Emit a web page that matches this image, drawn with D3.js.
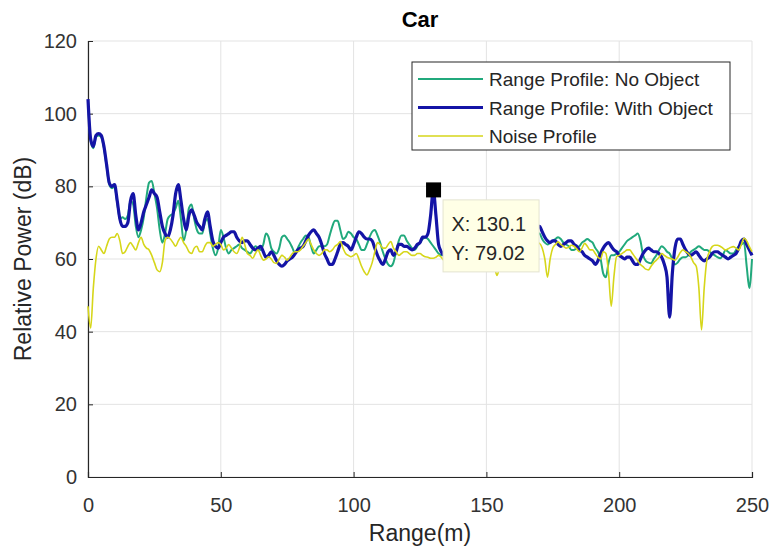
<!DOCTYPE html>
<html>
<head>
<meta charset="utf-8">
<script src="https://cdn.jsdelivr.net/npm/d3@7"></script>
<style>
  body { margin: 0; background: #fff; }
  text { font-family: Arial, "Liberation Sans", Helvetica, sans-serif; }
</style>
</head>
<body>
<div id="chart"></div>
<script>
// range bins, 1 m apart
var rangeM = d3.range(0, 251);

// Range Profile: No Object
var noObject = [
  103.5, 92.5, 90.5, 93.5, 94, 93.5, 90.5, 85.5, 80.5, 79.5, 80,
  75.5, 71, 71.5, 71, 72, 76, 75, 69, 66, 68,
  71.5, 77, 81, 81.5, 78, 74, 68, 64.5, 67, 71,
  72, 72.5, 74, 76, 71, 65, 68, 74, 75, 71,
  68, 67, 67, 70, 71, 67, 63, 61, 63, 68,
  66, 63, 61.5, 62.5, 63, 63.5, 64, 63, 62.5, 62,
  61.5, 62.5, 63.5, 63, 62.5, 64, 67, 66, 63, 62,
  61.5, 63, 66, 66.5, 65.5, 64.5, 63, 61.5, 63, 64.5,
  65.5, 66.5, 66, 63.5, 61.5, 62.5, 63.5, 63.5, 63.5, 64,
  66.5, 69, 70.5, 70.5, 68, 65.5, 66, 67.5, 67, 66,
  65.5, 64, 62.5, 62.5, 64, 66, 67.5, 68, 66.5, 64.5,
  62, 60, 58.5, 58, 59, 62, 65, 66.5, 66.5, 65,
  64, 63, 62.5, 63.5, 64.5, 65.5, 66, 65.5, 64.5, 63.5,
  62.5, 61.5, 61, 62, 64, 65, 63, 61, 62, 64,
  66, 65, 62, 60, 61, 63, 65, 64, 62, 61,
  62, 64, 65, 63, 61, 60, 62, 64, 65, 64,
  62, 61, 63, 65, 66, 66, 65, 66, 67, 67,
  65.5, 64.5, 64, 64.5, 65, 65.5, 66, 65.5, 64.5, 64,
  63.5, 62.5, 62.5, 63, 63.5, 64.5, 65, 65.5, 65, 64.5,
  63, 62, 60, 56, 55, 59, 61, 61, 61.5, 62,
  63, 64, 65, 65.5, 66, 66.5, 67, 65, 61, 59.5,
  59, 58.8, 60, 61, 62.5, 63.5, 63, 62, 61.5, 60,
  58.5, 59, 60, 60.5, 60.5, 61, 62, 62.5, 63, 63.5,
  63, 62.5, 62.5, 62, 61.5, 61, 60.5, 60.2, 61, 62.5,
  62, 61.5, 61.5, 62.5, 63.5, 64, 64.5, 58, 52, 60
];

// Range Profile: With Object
var withObject = [
  104, 93, 91, 94, 94.5, 94, 91, 86, 81, 80, 80.5,
  76, 71, 69, 69, 70, 76, 78, 72, 68, 70,
  73, 75, 77, 79, 78, 77, 73, 69, 67, 66,
  68, 72, 78, 80.5, 76, 71, 68, 72, 73.5, 72,
  70, 69, 68, 71, 73, 69, 65, 63.5, 63, 64.5,
  66, 66.5, 67, 67.5, 67.5, 66, 65, 64.5, 65, 65,
  64, 63, 62.5, 63, 63.5, 62, 60.5, 61, 62, 61,
  59.5, 58.5, 58, 58.5, 59.5, 60, 60.5, 61.5, 62.5, 63,
  63.5, 65, 66.5, 67.5, 68, 67, 66, 64, 61.5, 60,
  58.5, 58.5, 60, 62, 64, 64.5, 64, 63.5, 62.5, 64,
  66, 67.5, 67, 66, 65.5, 65.5, 65, 63, 61, 59.5,
  58.5, 60, 62, 62.5, 61, 62, 64, 64, 63.5, 63.5,
  63, 62.5, 63, 64, 64.5, 66, 66, 67, 72, 79,
  72, 64, 62, 61, 62, 64, 66, 65, 63, 61,
  62, 64, 65, 63, 60, 59, 61, 63, 64, 62,
  60, 61, 63, 65, 64, 62, 61, 62, 64, 66,
  65, 63, 62, 64, 66, 67, 68, 69, 69, 69,
  67.5, 66, 65, 64.5, 65, 65, 64, 63.5, 64, 64.5,
  65, 65, 64, 63.5, 62.5, 62, 61, 60.5, 60, 59.5,
  58.5, 59.5, 61.5, 63, 64, 64.5, 63.5, 62.5, 62, 61,
  60.5, 60, 60.5, 60.5, 59.5, 58.5, 58.5, 60, 61.5, 62.5,
  63, 62.5, 62, 62, 61.5, 60.5, 58.5, 55, 44, 56,
  63, 65.5, 65.5, 64, 62.5, 61.5, 61, 61.5, 62, 61,
  60, 59.5, 60, 60.5, 61.5, 62, 62, 61.5, 61, 60.5,
  60, 60.5, 61, 61.5, 63, 65, 65.5, 64, 62.5, 61
];

// Noise Profile
var noise = [
  47, 41, 52, 60, 63.5, 62.5, 61.5, 63.5, 65.5, 66, 66,
  67, 65, 61.5, 62, 63.5, 64.5, 63.5, 62.5, 64.5, 66,
  64, 63, 62.5, 61, 59, 57, 56.5, 59, 65, 66,
  65.5, 64.5, 63.5, 65, 66, 64.5, 63.5, 62, 61.5, 63,
  63.5, 62, 62, 63.5, 64.5, 64.5, 63.5, 64, 64.5, 64,
  62.5, 63, 64, 63, 62, 61.5, 63, 66, 64, 61.5,
  61, 60.2, 61.5, 62.5, 61, 59.7, 60, 60.6, 60, 59,
  58.8, 60, 61, 60.5, 59.7, 60.5, 61.6, 62, 62, 62.5,
  63.5, 64.5, 65.5, 64, 62.5, 61.5, 61, 61.5, 62.5, 62.5,
  62, 62.5, 63.5, 64, 64.8, 63, 61.5, 61, 60.6, 61,
  61.5, 60, 58, 56.5, 55.6, 57, 59, 62, 64.5, 64,
  63, 63, 64, 64.8, 63, 62, 61, 61.5, 62, 62,
  61.5, 61, 61, 61.5, 61.5, 61, 60.6, 60.5, 60.2, 60.2,
  60.5, 61, 60.5, 59.7, 61, 62.5, 63, 62, 61, 60.5,
  61.5, 63, 64, 62.5, 61, 62, 63.5, 62, 60.5, 61,
  62, 60.5, 58, 55.5, 58, 61, 62.5, 63, 62, 61,
  62, 63.5, 64, 63, 62, 63, 64, 64.5, 64.5, 64.3,
  63, 60, 55, 60, 63, 64, 64.7, 64, 63.5, 63,
  63.2, 63.8, 63.5, 62.8, 62, 63, 64.3, 63.5, 62.5, 62.5,
  61.5, 60.5, 60, 62, 61.5, 56, 47, 55, 60.6, 61,
  61.5, 62, 62.5, 62.5, 61.5, 60.5, 59.5, 58.5, 57.9, 57.2,
  57, 58, 59, 59.7, 60.5, 61.5, 61, 60.5, 60.2, 60,
  59.7, 60.5, 61.8, 62.5, 62, 61.5, 60.5, 59, 58, 52,
  40.5, 52, 59.7, 62, 63.4, 63.8, 63.8, 63.5, 63, 62.5,
  62.8, 63.2, 63.4, 63, 62.5, 64, 65.7, 65, 63.4, 62
];

var seriesNames = ['Range Profile: No Object', 'Range Profile: With Object', 'Noise Profile'];
var seriesColors = ['#21a97c', '#1414a6', '#d6d61a'];
var seriesWidths = [2, 3.2, 1.6];
var xTicks = [0, 50, 100, 150, 200, 250];
var yTicks = [0, 20, 40, 60, 80, 100, 120];
var tipX = 130.1, tipY = 79.02;

var width = 772, height = 552;
var margin = {top: 41, right: 20, bottom: 75, left: 88};
var w = width - margin.left - margin.right;
var h = height - margin.top - margin.bottom;

var svg = d3.select('#chart').append('svg')
    .attr('width', width)
    .attr('height', height);

var x = d3.scaleLinear().domain([0, 250]).range([0, w]);
var y = d3.scaleLinear().domain([0, 120]).range([h, 0]);

var g = svg.append('g')
    .attr('transform', 'translate(' + margin.left + ',' + margin.top + ')');

// grid
g.selectAll('.vgrid').data(xTicks).enter().append('line')
    .attr('x1', function(d) { return x(d); })
    .attr('x2', function(d) { return x(d); })
    .attr('y1', 0).attr('y2', h)
    .attr('stroke', '#e3e3e3').attr('stroke-width', 1);
g.selectAll('.hgrid').data(yTicks).enter().append('line')
    .attr('y1', function(d) { return y(d); })
    .attr('y2', function(d) { return y(d); })
    .attr('x1', 0).attr('x2', w)
    .attr('stroke', '#e3e3e3').attr('stroke-width', 1);

// axes
var xAxis = g.append('g')
    .attr('transform', 'translate(0,' + h + ')')
    .call(d3.axisBottom(x).tickValues(xTicks).tickSize(-5).tickPadding(21));
var yAxis = g.append('g')
    .call(d3.axisLeft(y).tickValues(yTicks).tickSize(-5).tickPadding(11));
[xAxis, yAxis].forEach(function(a) {
    a.select('.domain').attr('stroke', '#262626').attr('stroke-width', 1.2);
    a.selectAll('.tick line').attr('stroke', '#262626');
    a.selectAll('.tick text')
        .attr('fill', '#333')
        .style('font-size', '20px')
        .style('font-family', 'Arial, "Liberation Sans", sans-serif');
});

// lines
var line = d3.line()
    .curve(d3.curveMonotoneX)
    .x(function(d) { return x(d[0]); })
    .y(function(d) { return y(d[1]); });

var allSeries = [noObject, withObject, noise];
allSeries.forEach(function(vals, i) {
    g.append('path')
        .datum(rangeM.map(function(r, j) { return [r, vals[j]]; }))
        .attr('d', line)
        .attr('fill', 'none')
        .attr('stroke', seriesColors[i])
        .attr('stroke-width', seriesWidths[i])
        .attr('stroke-linejoin', 'round');
});

// data tip
var tx = x(tipX), ty = y(tipY);
g.append('rect')
    .attr('x', tx - 7.5).attr('y', ty - 7.5)
    .attr('width', 15).attr('height', 15)
    .attr('fill', '#000');
g.append('rect')
    .attr('x', tx + 9.5).attr('y', ty + 10)
    .attr('width', 96).attr('height', 72)
    .attr('fill', '#ffffe6')
    .attr('stroke', '#e4e4d0');
g.append('text')
    .attr('x', tx + 18).attr('y', ty + 41)
    .attr('fill', '#262626').style('font-size', '20px')
    .text('X: ' + tipX);
g.append('text')
    .attr('x', tx + 18).attr('y', ty + 70)
    .attr('fill', '#262626').style('font-size', '20px')
    .text('Y: ' + tipY.toFixed(2));

// legend
var legend = svg.append('g').attr('transform', 'translate(412,62)');
legend.append('rect')
    .attr('width', 318).attr('height', 88)
    .attr('fill', '#fff').attr('stroke', '#262626').attr('stroke-width', 1);
seriesNames.forEach(function(name, i) {
    var ly = 17 + i * 28.5;
    legend.append('line')
        .attr('x1', 6).attr('x2', 71)
        .attr('y1', ly).attr('y2', ly)
        .attr('stroke', seriesColors[i])
        .attr('stroke-width', seriesWidths[i]);
    legend.append('text')
        .attr('x', 77).attr('y', ly + 7)
        .attr('fill', '#262626')
        .style('font-size', '19px')
        .text(name);
});

// title and labels
svg.append('text')
    .attr('x', margin.left + w / 2).attr('y', 27)
    .attr('text-anchor', 'middle')
    .style('font-size', '22px').style('font-weight', 'bold')
    .attr('fill', '#000')
    .text('Car');
svg.append('text')
    .attr('x', margin.left + w / 2).attr('y', 541)
    .attr('text-anchor', 'middle')
    .style('font-size', '23px')
    .attr('fill', '#262626')
    .text('Range(m)');
svg.append('text')
    .attr('transform', 'translate(31,' + (margin.top + h / 2) + ') rotate(-90)')
    .attr('text-anchor', 'middle')
    .style('font-size', '23px')
    .attr('fill', '#262626')
    .text('Relative Power (dB)');
</script>
</body>
</html>
